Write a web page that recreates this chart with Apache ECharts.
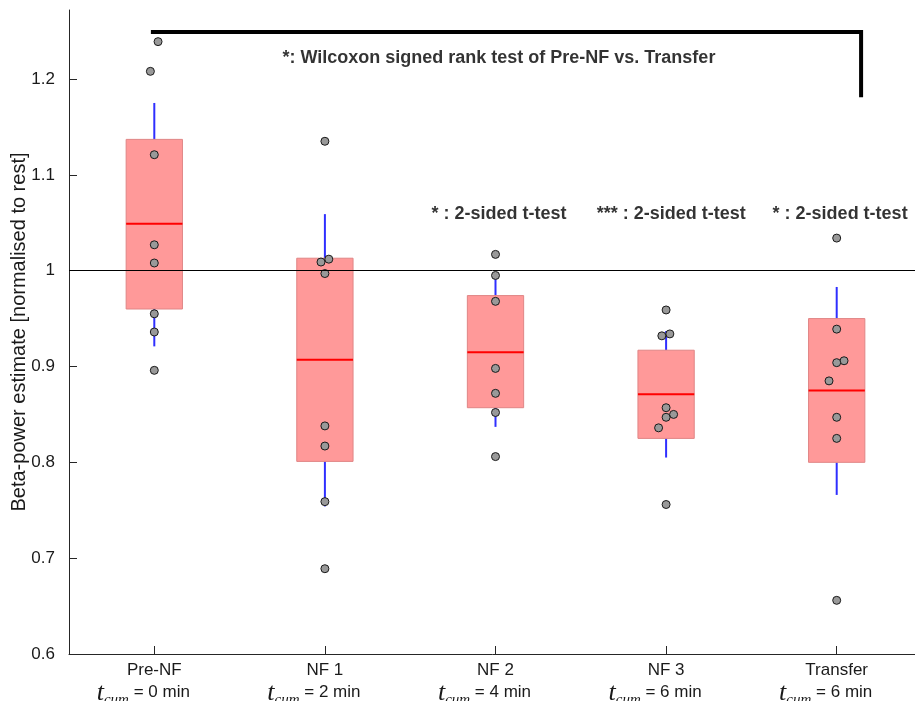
<!DOCTYPE html>
<html>
<head>
<meta charset="utf-8">
<script src="https://cdn.jsdelivr.net/npm/echarts@6/dist/echarts.min.js"></script>
<style>
html,body{margin:0;padding:0;background:#fff;}
#chart{width:915px;height:701px;}
</style>
</head>
<body>
<div id="chart"></div>
<script>
// ---------- data ----------
const categories = ['Pre-NF', 'NF 1', 'NF 2', 'NF 3', 'Transfer'];
const tcumMinutes = ['0', '2', '4', '6', '6'];
const yTicks = [0.6, 0.7, 0.8, 0.9, 1, 1.1, 1.2];
const xTicks = [1, 2, 3, 4, 5];

// [whisker low, box low, median, box high, whisker high]
const boxStats = [
  [0.921, 0.960, 1.049, 1.137, 1.175],
  [0.754, 0.801, 0.907, 1.013, 1.059],
  [0.837, 0.857, 0.915, 0.974, 0.993],
  [0.805, 0.825, 0.871, 0.917, 0.937],
  [0.766, 0.800, 0.875, 0.950, 0.983]
];

const preNF    = [1.239, 1.208, 1.121, 1.027, 1.008, 0.955, 0.936, 0.896];
const nf1      = [1.135, 1.012, 1.009, 0.997, 0.838, 0.817, 0.759, 0.689];
const nf2      = [1.017, 0.995, 0.968, 0.898, 0.872, 0.852, 0.806];
const nf3      = [0.959, 0.934, 0.932, 0.857, 0.850, 0.847, 0.836, 0.756];
const transfer = [1.034, 0.939, 0.906, 0.904, 0.885, 0.847, 0.825, 0.656];

// horizontal jitter of each point (category units)
const preNFJitter    = [0.022, -0.023, 0, 0, 0, 0, 0, 0];
const nf1Jitter      = [0, 0.023, -0.023, 0, 0, 0, 0, 0];
const nf2Jitter      = [0, 0, 0, 0, 0, 0, 0];
const nf3Jitter      = [0, 0.022, -0.025, 0, 0.044, 0, -0.044, 0];
const transferJitter = [0, 0, 0.043, 0, -0.045, 0, 0, 0];

const referenceLevel = 1;
const bracketPath = [[0.98, 1.249], [5.143, 1.249], [5.143, 1.181]];
const annotations = [
  { x: 3.02, y: 1.222, text: '*: Wilcoxon signed rank test of Pre-NF vs. Transfer' },
  { x: 3.02, y: 1.059, text: '* : 2-sided t-test' },
  { x: 4.03, y: 1.059, text: '*** : 2-sided t-test' },
  { x: 5.02, y: 1.059, text: '* : 2-sided t-test' }
];

// ---------- build ----------
const groups = [preNF, nf1, nf2, nf3, transfer];
const jitters = [preNFJitter, nf1Jitter, nf2Jitter, nf3Jitter, transferJitter];
const pointData = [];
groups.forEach((vals, i) => vals.forEach((v, j) => pointData.push([i + 1 + jitters[i][j], v])));
const boxData = boxStats.map((s, i) => [i + 1].concat(s));

const SANS = "'Liberation Sans', Arial, Helvetica, sans-serif";
const SERIF = "'Liberation Serif', 'DejaVu Serif', serif";
const AX = '#262626';
const TXT = '#1a1a1a';
const HALF = 0.165;

const chart = echarts.init(document.getElementById('chart'), null, { renderer: 'canvas' });
chart.setOption({
  animation: false,
  backgroundColor: '#fff',
  grid: { left: 69, right: -7, top: 10, bottom: 47, containLabel: false, outerBoundsMode: 'none' },
  xAxis: {
    type: 'value', min: 0.5, max: 5.5,
    splitLine: { show: false },
    axisLine: { show: true, onZero: false, lineStyle: { color: AX, width: 1 } },
    axisTick: { show: true, inside: true, length: 8, customValues: xTicks, lineStyle: { color: AX } },
    axisLabel: {
      customValues: xTicks,
      margin: 6,
      color: TXT,
      fontFamily: SANS,
      fontSize: 17,
      lineHeight: 20,
      formatter: function (v) {
        const i = Math.round(v) - 1;
        if (i < 0 || i >= categories.length) return '';
        return categories[i] + '\n{t|t}{sub|cum}{n| = ' + tcumMinutes[i] + ' min}';
      },
      rich: {
        t: { fontFamily: SERIF, fontStyle: 'italic', fontSize: 26, lineHeight: 22, verticalAlign: 'top', color: TXT },
        sub: { fontFamily: SERIF, fontStyle: 'italic', fontSize: 15, lineHeight: 16, padding: [13, 0, 0, 0], verticalAlign: 'top', color: TXT },
        n: { fontFamily: SANS, fontSize: 17, lineHeight: 20, verticalAlign: 'top', padding: [4, 22, 0, 0], color: TXT }
      }
    }
  },
  yAxis: {
    type: 'value', min: 0.6, max: 1.272,
    name: 'Beta-power estimate [normalised to rest]',
    nameLocation: 'middle',
    nameGap: 40,
    nameMoveOverlap: false,
    nameTextStyle: { color: TXT, fontFamily: SANS, fontSize: 20 },
    splitLine: { show: false },
    axisLine: { show: true, lineStyle: { color: AX, width: 1 } },
    axisTick: { show: true, inside: true, length: 8, customValues: yTicks, lineStyle: { color: AX } },
    axisLabel: { customValues: yTicks, margin: 14, color: TXT, fontFamily: SANS, fontSize: 17 }
  },
  series: [
    {
      type: 'line', data: [], z: 1, silent: true,
      markLine: {
        silent: true, symbol: ['none', 'none'], label: { show: false },
        lineStyle: { color: '#000', width: 1, type: 'solid' },
        data: [{ yAxis: referenceLevel }]
      }
    },
    {
      type: 'custom', z: 2, silent: true,
      data: boxData,
      encode: { x: 0, y: [1, 2, 3, 4, 5] },
      renderItem: function (params, api) {
        const x = api.value(0);
        const lo = api.value(1), q1 = api.value(2), med = api.value(3), q3 = api.value(4), hi = api.value(5);
        const tl = api.coord([x - HALF, q3]);
        const br = api.coord([x + HALF, q1]);
        const pHi = api.coord([x, hi]), pQ3 = api.coord([x, q3]);
        const pLo = api.coord([x, lo]), pQ1 = api.coord([x, q1]);
        const mL = api.coord([x - HALF, med]), mR = api.coord([x + HALF, med]);
        return {
          type: 'group',
          children: [
            { type: 'line', shape: { x1: pQ3[0], y1: pQ3[1], x2: pHi[0], y2: pHi[1] }, style: { stroke: '#2f2fff', lineWidth: 2 } },
            { type: 'line', shape: { x1: pQ1[0], y1: pQ1[1], x2: pLo[0], y2: pLo[1] }, style: { stroke: '#2f2fff', lineWidth: 2 } },
            { type: 'rect', shape: { x: tl[0], y: tl[1], width: br[0] - tl[0], height: br[1] - tl[1] }, style: { fill: '#ff9999', stroke: '#e08585', lineWidth: 1 } },
            { type: 'line', shape: { x1: mL[0], y1: mL[1], x2: mR[0], y2: mR[1] }, style: { stroke: '#ff0000', lineWidth: 2 } }
          ]
        };
      }
    },
    {
      type: 'scatter', z: 3, silent: true,
      data: pointData,
      symbol: 'circle', symbolSize: 8,
      itemStyle: { color: '#999999', borderColor: '#1a1a1a', borderWidth: 1, opacity: 1 }
    },
    {
      type: 'line', z: 4, silent: true,
      data: bracketPath, symbol: 'none',
      lineStyle: { color: '#000', width: 4, cap: 'butt', join: 'miter' }
    },
    {
      type: 'scatter', z: 5, silent: true,
      symbolSize: 0,
      data: annotations.map(a => ({ value: [a.x, a.y], label: { formatter: a.text } })),
      label: { show: true, position: 'inside', color: '#000', fontFamily: SANS, fontWeight: 'bold', fontSize: 18 }
    }
  ]
});
</script>
</body>
</html>
